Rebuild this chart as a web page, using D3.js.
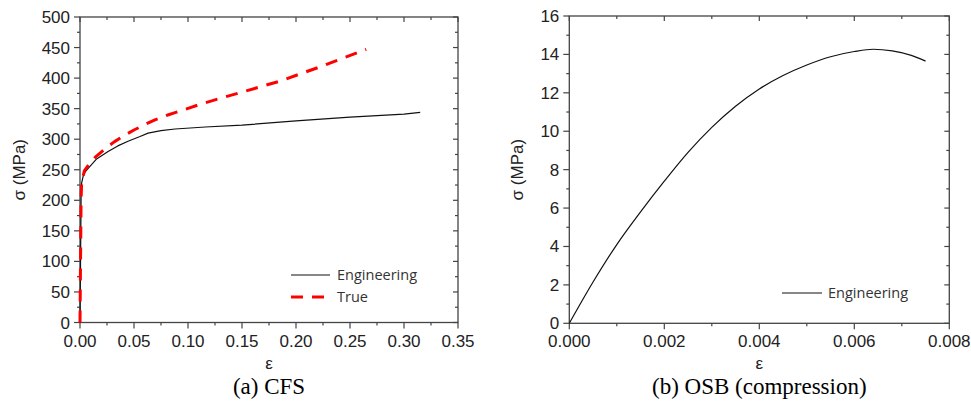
<!DOCTYPE html>
<html>
<head>
<meta charset="utf-8">
<script src="https://cdn.jsdelivr.net/npm/d3@7"></script>
<style>
  body{margin:0;background:#fff;}
  svg{display:block;}
</style>
</head>
<body>
<script>
// (a) CFS - engineering and true stress-strain
var cfsEngStrain = [0,0.0005,0.001,0.0015,0.003,0.005,0.008,0.015,0.026,0.035,0.045,0.055,0.063,0.075,0.088,0.116,0.15,0.20,0.25,0.30,0.315];
var cfsEngStress = [0,100,205,228,240,247,253,267,280,289,297,304,310,314,316.7,320,323,330,336,341,344];
var cfsTrueStrain = [0,0.0005,0.001,0.0015,0.004,0.008,0.015,0.023,0.032,0.042,0.05,0.06,0.07,0.082,0.096,0.111,0.13,0.148,0.185,0.22,0.265];
var cfsTrueStress = [0,100,200,228,248,258,272,284,296,307,315,324,332,340,348,357,367,376,395,417,447];
// (b) OSB compression
var osbStrain = [0,0.0005,0.001,0.0015,0.002,0.0025,0.003,0.0035,0.004,0.0045,0.005,0.0055,0.006,0.0064,0.0068,0.0072,0.0075];
var osbStress = [0,2.15,4.1,5.8,7.4,8.9,10.2,11.3,12.2,12.9,13.45,13.88,14.15,14.27,14.18,13.95,13.65];

var cfsXTicks = [0,0.05,0.10,0.15,0.20,0.25,0.30,0.35];
var cfsYTicks = [0,50,100,150,200,250,300,350,400,450,500];
var osbXTicks = [0,0.002,0.004,0.006,0.008];
var osbYTicks = [0,2,4,6,8,10,12,14,16];

var legendA = ['Engineering','True'];
var legendB = ['Engineering'];
var captions = ['(a) CFS','(b) OSB (compression)'];

var svg = d3.select('body').append('svg').attr('width',971).attr('height',412);
var axisCol = '#444';

function zip(a,b){ return a.map(function(v,i){ return [v,b[i]]; }); }

function panel(o){
    var x = d3.scaleLinear().domain(o.xd).range([o.left,o.right]);
    var y = d3.scaleLinear().domain(o.yd).range([o.bottom,o.top]);
    var g = svg.append('g');

    // major + minor ticks, outside on left/bottom, inside on top/right
    var xMinor = d3.range(o.xd[0], o.xd[1]+o.xm/2, o.xm);
    var yMinor = d3.range(o.yd[0], o.yd[1]+o.ym/2, o.ym);
    xMinor.forEach(function(v){
        var maj = o.xt.some(function(t){ return Math.abs(t-v) < o.xm/10; });
        var L = maj ? 6 : 3, Li = maj ? 5 : 3;
        g.append('line').attr('x1',x(v)).attr('x2',x(v)).attr('y1',o.bottom).attr('y2',o.bottom+L)
            .attr('stroke',axisCol).attr('stroke-width',1.2);
        g.append('line').attr('x1',x(v)).attr('x2',x(v)).attr('y1',o.top).attr('y2',o.top+Li)
            .attr('stroke',axisCol).attr('stroke-width',1.2);
    });
    yMinor.forEach(function(v){
        var maj = o.yt.some(function(t){ return Math.abs(t-v) < o.ym/10; });
        var L = maj ? 6 : 3, Li = maj ? 5 : 3;
        g.append('line').attr('y1',y(v)).attr('y2',y(v)).attr('x1',o.left).attr('x2',o.left-L)
            .attr('stroke',axisCol).attr('stroke-width',1.2);
        g.append('line').attr('y1',y(v)).attr('y2',y(v)).attr('x1',o.right).attr('x2',o.right-Li)
            .attr('stroke',axisCol).attr('stroke-width',1.2);
    });

    // frame
    g.append('rect').attr('x',o.left).attr('y',o.top).attr('width',o.right-o.left).attr('height',o.bottom-o.top)
        .attr('fill','none').attr('stroke',axisCol).attr('stroke-width',1.3);

    // tick labels
    o.xt.forEach(function(v){
        g.append('text').attr('x',x(v)).attr('y',o.bottom+24).attr('text-anchor','middle')
            .attr('font-family','Liberation Sans, Arial, sans-serif').attr('font-size',17).attr('fill','#222')
            .text(d3.format(o.xf)(v));
    });
    o.yt.forEach(function(v){
        g.append('text').attr('x',o.left-10).attr('y',y(v)+6).attr('text-anchor','end')
            .attr('font-family','Liberation Sans, Arial, sans-serif').attr('font-size',17).attr('fill','#222')
            .text(v);
    });

    // axis titles + caption
    g.append('text').attr('transform','translate('+o.ylx+','+((o.top+o.bottom)/2)+') rotate(-90)')
        .attr('text-anchor','middle').attr('font-family','Liberation Sans, Arial, sans-serif')
        .attr('font-size',17).attr('fill','#222').text('σ (MPa)');
    g.append('text').attr('x',(o.left+o.right)/2).attr('y',369).attr('text-anchor','middle')
        .attr('font-family','Liberation Sans, Arial, sans-serif').attr('font-size',17).attr('fill','#222').text('ε');
    g.append('text').attr('x',(o.left+o.right)/2).attr('y',394).attr('text-anchor','middle')
        .attr('font-family','Liberation Serif, Times New Roman, serif').attr('font-size',23).attr('fill','#000')
        .text(o.caption);

    o.series.forEach(function(s){
        var line = d3.line().x(function(d){ return x(d[0]); }).y(function(d){ return y(d[1]); })
            .curve(s.smooth ? d3.curveMonotoneX : d3.curveLinear);
        g.append('path').attr('d',line(s.data)).attr('fill','none').attr('stroke',s.color)
            .attr('stroke-width',s.w).attr('stroke-dasharray',s.dash||null).attr('stroke-linejoin','round');
    });

    // legend
    o.series.forEach(function(s,i){
        var ly = o.legY + i*22;
        g.append('line').attr('x1',o.legX).attr('x2',o.legX+s.legLen).attr('y1',ly).attr('y2',ly)
            .attr('stroke',s.color).attr('stroke-width',s.w).attr('stroke-dasharray',s.dash||null);
        g.append('text').attr('x',o.legX+46).attr('y',ly+5).attr('font-family','Open Sans, sans-serif')
            .attr('font-size',14.5).attr('fill','#333').text(s.name);
    });
}

panel({
    left:80,right:458,top:17,bottom:322.5,
    xd:[0,0.35],yd:[0,500],xt:cfsXTicks,yt:cfsYTicks,xm:0.025,ym:25,xf:'.2f',
    ylx:25,caption:captions[0],legX:291,legY:275,
    series:[
        {name:legendA[0],data:zip(cfsEngStrain,cfsEngStress),color:'#111',w:1.2,legLen:39},
        {name:legendA[1],data:zip(cfsTrueStrain,cfsTrueStress),color:'#ff0000',w:3,dash:'12,9',legLen:34}
    ]
});

panel({
    left:569.3,right:949.3,top:16,bottom:323.3,
    xd:[0,0.008],yd:[0,16],xt:osbXTicks,yt:osbYTicks,xm:0.001,ym:1,xf:'.3f',
    ylx:523,caption:captions[1],legX:782,legY:293,
    series:[
        {name:legendB[0],data:zip(osbStrain,osbStress),color:'#111',w:1.2,legLen:40,smooth:true}
    ]
});
</script>
</body>
</html>
